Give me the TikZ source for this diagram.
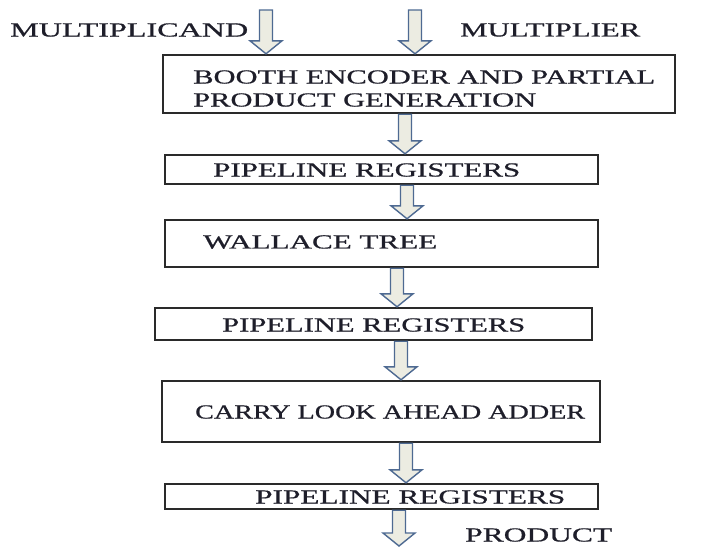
\documentclass[tikz,border=0pt]{standalone}
\usepackage{graphicx}
\usepackage{fontspec}
\setmainfont{Liberation Serif}
\newfontfamily\lblfont{Liberation Serif}[FakeBold=0.6]
\usetikzlibrary{calc}

\definecolor{boxline}{HTML}{2A2A2A}
\definecolor{textcol}{HTML}{1E1E2A}
\definecolor{arrline}{HTML}{4E6A92}
\definecolor{arrfill}{HTML}{ECECE2}

% text stretched to a given width, natural height kept
\newcommand\wtext[2]{\resizebox{#1pt}{\height}{#2}}

% hollow block arrow pointing down from #1 to #2
\newcommand\barrow[2]{%
  \draw[barrow] let \p1=(#1), \p2=(#2) in
    (\x1-6.5pt,\y1) -- (\x1-6.5pt,\y2+13pt) -- (\x1-16pt,\y2+13pt) --
    (\x1,\y2) -- (\x1+16pt,\y2+13pt) -- (\x1+6.5pt,\y2+13pt) --
    (\x1+6.5pt,\y1) -- cycle;}

\begin{document}
\begin{tikzpicture}[x=1pt,y=-1pt,
  blockbox/.style={draw=boxline, line width=2.4pt, inner sep=0pt, fill=white},
  lbl/.style={anchor=west, inner sep=0pt, text=textcol,
              font=\lblfont\fontsize{20}{24}\selectfont},
  barrow/.style={draw=arrline, fill=arrfill, line width=1.4pt, line join=miter}]

\fill[white] (0,0) rectangle (706,547);
\useasboundingbox (0,0) rectangle (706,547);

% stage boxes
\node[blockbox, minimum width=512pt, minimum height=58pt] (booth)   at (419,84)    {};
\node[blockbox, minimum width=433pt, minimum height=29pt] (pipeA)   at (381.5,169.5) {};
\node[blockbox, minimum width=433pt, minimum height=47pt] (wallace) at (381.5,243.5) {};
\node[blockbox, minimum width=437pt, minimum height=32pt] (pipeB)   at (373.5,324) {};
\node[blockbox, minimum width=438pt, minimum height=61pt] (cla)     at (381,411.5) {};
\node[blockbox, minimum width=433pt, minimum height=25pt] (pipeC)   at (381.5,496.5) {};

% labels
\node[lbl] (tMcand) at (10,30)   {\wtext{238}{MULTIPLICAND}};
\node[lbl] (tMlier) at (460,30)  {\wtext{180}{MULTIPLIER}};
\node[lbl] (tBoothA) at (193,77) {\wtext{462}{BOOTH ENCODER AND PARTIAL}};
\node[lbl] (tBoothB) at (193,100){\wtext{343}{PRODUCT GENERATION}};
\node[lbl] (tPipeA) at (213,170) {\wtext{307}{PIPELINE REGISTERS}};
\node[lbl] (tWall)  at (203,242) {\wtext{234}{WALLACE TREE}};
\node[lbl] (tPipeB) at (222,325) {\wtext{303}{PIPELINE REGISTERS}};
\node[lbl] (tCla)   at (195,412) {\wtext{390}{CARRY LOOK AHEAD ADDER}};
\node[lbl] (tPipeC) at (255,497) {\wtext{310}{PIPELINE REGISTERS}};
\node[lbl] (tProd)  at (465,535) {\wtext{147}{PRODUCT}};

% arrow columns and free ends
\coordinate (inA) at (266,10);
\coordinate (inB) at (415,10);
\coordinate (xA) at (405,0);
\coordinate (xB) at (407,0);
\coordinate (xC) at (397,0);
\coordinate (xD) at (401,0);
\coordinate (xE) at (406,0);
\coordinate (out) at (399,546);

% data-flow arrows
\barrow{inA}{booth.north -| inA}
\barrow{inB}{booth.north -| inB}
\barrow{booth.south -| xA}{pipeA.north -| xA}
\barrow{pipeA.south -| xB}{wallace.north -| xB}
\barrow{wallace.south -| xC}{pipeB.north -| xC}
\barrow{pipeB.south -| xD}{cla.north -| xD}
\barrow{cla.south -| xE}{pipeC.north -| xE}
\barrow{pipeC.south -| out}{out}
\end{tikzpicture}
\end{document}
